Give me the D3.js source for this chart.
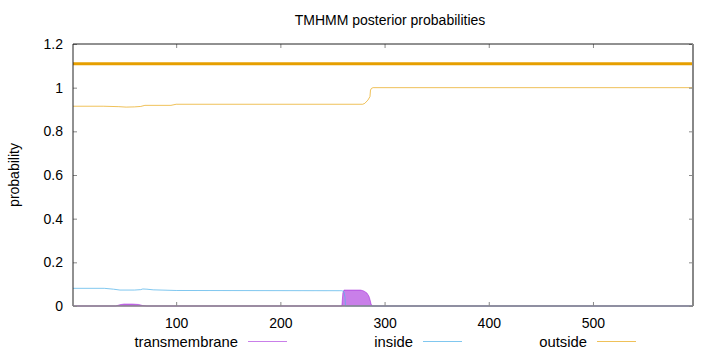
<!DOCTYPE html>
<html>
<head>
<meta charset="utf-8">
<script src="https://cdn.jsdelivr.net/npm/d3@7"></script>
<style>
  body { margin: 0; background: #fff; }
  svg text { font-family: "Liberation Sans", Arial, sans-serif; fill: #000; }
</style>
</head>
<body>
<div id="chart"></div>
<script>
// sequence / axes
const seqLength = 596;
const xTicks = [100, 200, 300, 400, 500];
const yTicks = [0, 0.2, 0.4, 0.6, 0.8, 1, 1.2];

// posterior probabilities (residue, value)
const outsidePos = [1, 30, 45, 52, 60, 66, 70, 95, 100, 279, 281, 284, 286, 286.5, 287.5, 289, 596];
const outsideVal = [0.915, 0.915, 0.913, 0.911, 0.912, 0.914, 0.919, 0.919, 0.924, 0.924, 0.928, 0.943, 0.959, 0.989, 0.997, 1.0, 1.0];

const insidePos = [1, 31, 40, 46, 60, 66, 68, 72, 78, 100, 259, 261, 262, 262.5, 596];
const insideVal = [0.081, 0.081, 0.077, 0.073, 0.073, 0.075, 0.078, 0.077, 0.074, 0.071, 0.070, 0.066, 0.040, 0, 0];

const tmPos = [1, 42, 46, 50, 58, 64, 68, 72, 259, 260, 261, 277, 280, 283, 285, 286, 287, 288, 596];
const tmVal = [0, 0, 0.006, 0.009, 0.009, 0.007, 0.002, 0, 0, 0.060, 0.073, 0.073, 0.069, 0.060, 0.045, 0.030, 0.010, 0, 0];

// predicted topology bar
const topoStart = [1];
const topoEnd = [596];
const topoLevel = 1.11;

const legendNames = ["transmembrane", "inside", "outside"];

const width = 720, height = 352;
const margin = {top: 44, right: 27, bottom: 46, left: 73};
const w = width - margin.left - margin.right;
const h = height - margin.top - margin.bottom;

const cTm = "#9400d3", cIn = "#56b4e9", cOut = "#e69f00";

const svg = d3.select("#chart").append("svg")
  .attr("width", width)
  .attr("height", height);

const x = d3.scaleLinear().domain([1, seqLength]).range([0, w]);
const y = d3.scaleLinear().domain([0, 1.2]).range([h, 0]);

const g = svg.append("g").attr("transform", "translate(" + margin.left + "," + margin.top + ")");

const zip = (p, v) => p.map((d, i) => [d, v[i]]);

// transmembrane as filled area
g.append("path")
  .datum(zip(tmPos, tmVal))
  .attr("fill", cTm).attr("fill-opacity", 0.5)
  .attr("stroke", cTm).attr("stroke-opacity", 0.45).attr("stroke-width", 1)
  .attr("d", d3.area().x(d => x(d[0])).y0(y(0)).y1(d => y(d[1])));

// inside
g.append("path")
  .datum(zip(insidePos, insideVal))
  .attr("fill", "none").attr("stroke", cIn).attr("stroke-opacity", 0.75).attr("stroke-width", 1)
  .attr("d", d3.line().x(d => x(d[0])).y(d => y(d[1])));

// outside
g.append("path")
  .datum(zip(outsidePos, outsideVal))
  .attr("fill", "none").attr("stroke", cOut).attr("stroke-opacity", 0.65).attr("stroke-width", 1)
  .attr("d", d3.line().x(d => x(d[0])).y(d => y(d[1])));

// topology bar
g.selectAll(".topo").data(topoStart).enter().append("line")
  .attr("class", "topo")
  .attr("x1", d => x(d)).attr("x2", (d, i) => x(topoEnd[i]))
  .attr("y1", y(topoLevel)).attr("y2", y(topoLevel))
  .attr("stroke", cOut).attr("stroke-width", 3);

// axes with inward ticks
const xAxis = g.append("g").attr("transform", "translate(0," + h + ")")
  .call(d3.axisBottom(x).tickValues(xTicks).tickSize(-4).tickPadding(12).tickFormat(d3.format("d")));
const xTop = g.append("g")
  .call(d3.axisTop(x).tickValues(xTicks).tickSize(-4).tickFormat(""));
const yAxis = g.append("g")
  .call(d3.axisLeft(y).tickValues(yTicks).tickSize(-4).tickPadding(10).tickFormat(d => d3.format("")(+d.toFixed(1))));
const yRight = g.append("g").attr("transform", "translate(" + w + ",0)")
  .call(d3.axisRight(y).tickValues(yTicks).tickSize(-4).tickFormat(""));

[xAxis, xTop, yAxis, yRight].forEach(a => {
  a.select(".domain").remove();
  a.selectAll(".tick line").attr("stroke", "#888");
  a.selectAll("text").attr("font-size", 14).attr("fill", "#000")
    .attr("font-family", '"Liberation Sans", Arial, sans-serif');
});

// frame
g.append("line").attr("x1", 0).attr("x2", w).attr("y1", 0).attr("y2", 0).attr("stroke", "#222");
g.append("line").attr("x1", 0).attr("x2", 0).attr("y1", 0).attr("y2", h).attr("stroke", "#222");
g.append("line").attr("x1", w).attr("x2", w).attr("y1", 0).attr("y2", h).attr("stroke", "#888").attr("stroke-width", 2);
g.append("line").attr("x1", 0).attr("x2", w).attr("y1", h).attr("y2", h).attr("stroke", "#888").attr("stroke-width", 1.5);

// title + y label
svg.append("text").attr("x", 390).attr("y", 25).attr("text-anchor", "middle")
  .attr("font-size", 14).text("TMHMM posterior probabilities");
svg.append("text").attr("transform", "translate(19," + (margin.top + h / 2) + ") rotate(-90)")
  .attr("text-anchor", "middle").attr("font-size", 14).text("probability");

// legend
const legendTextEnd = [238, 413, 587];
const legendColors = [cTm, cIn, cOut];
const legendOpacity = [0.5, 0.75, 0.65];
const leg = svg.selectAll(".leg").data(legendNames).enter().append("g").attr("class", "leg");
leg.append("text")
  .attr("x", (d, i) => legendTextEnd[i]).attr("y", 346.5)
  .attr("text-anchor", "end").attr("font-size", 14.8).text(d => d);
leg.append("line")
  .attr("x1", (d, i) => legendTextEnd[i] + 10).attr("x2", (d, i) => legendTextEnd[i] + 49)
  .attr("y1", 341.5).attr("y2", 341.5)
  .attr("stroke", (d, i) => legendColors[i]).attr("stroke-opacity", (d, i) => legendOpacity[i]);
</script>
</body>
</html>
